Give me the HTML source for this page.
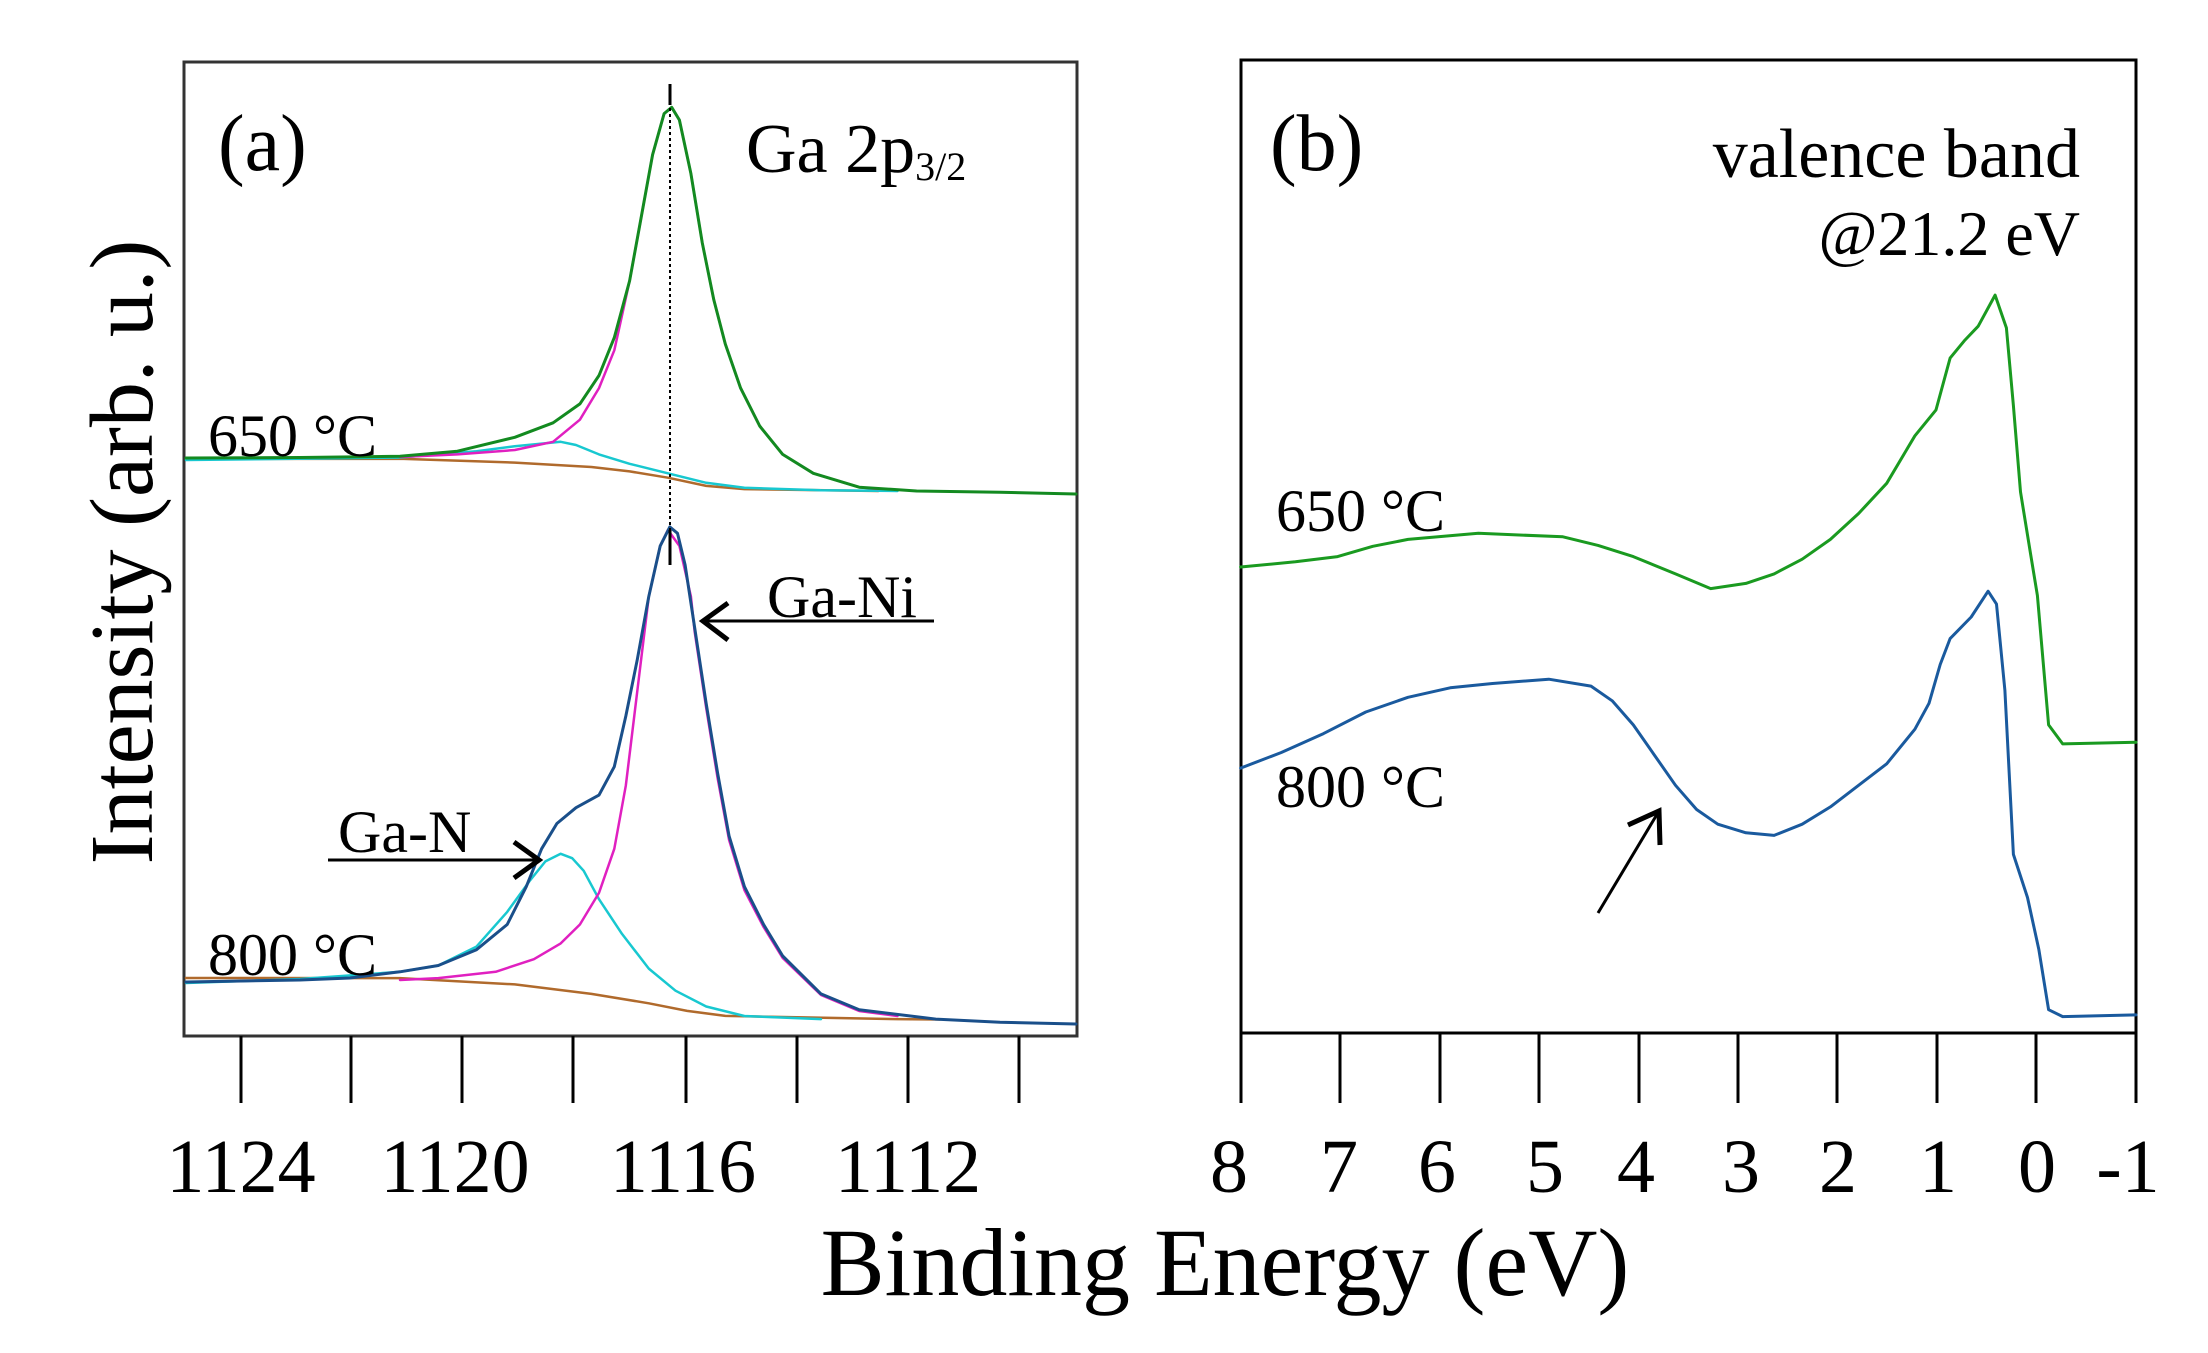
<!DOCTYPE html>
<html><head><meta charset="utf-8"><style>
html,body{margin:0;padding:0;background:#fff;}
svg{display:block;font-family:"Liberation Serif",serif;}
</style></head><body>
<svg width="2208" height="1353" viewBox="0 0 2208 1353" xmlns="http://www.w3.org/2000/svg">
<rect width="2208" height="1353" fill="#fff"/>
<g fill="none" stroke="#000" stroke-width="3">
<rect x="184" y="62" width="893" height="974" stroke="#333"/>
<rect x="1241" y="60" width="895" height="973"/>
<path d="M241 1036V1103M351 1036V1103M462 1036V1103M573 1036V1103M686 1036V1103M797 1036V1103M908 1036V1103M1019 1036V1103"/>
<path d="M1241 1033V1103M1340 1033V1103M1440 1033V1103M1539 1033V1103M1639 1033V1103M1738 1033V1103M1837 1033V1103M1937 1033V1103M2036 1033V1103M2136 1033V1103"/>
</g>
<g fill="none" stroke-width="3" stroke-linejoin="round" stroke-linecap="round">
<!-- 650 panel a -->
<polyline stroke="#b06a2c" stroke-width="2.5" points="186,459 400,458.8 514.8,462.6 591.4,467 629.6,471.4 667.9,477.7 706.2,485.9 744.4,489.1 878.4,491"/>
<polyline stroke="#18c8d0" stroke-width="2.5" points="186,460 400,457.5 476.5,451.2 514.8,446.2 560.7,441.8 576,445 599,454.4 629.6,463.8 667.9,473.3 706.2,482.8 744.4,487.8 821,490.3 897.5,491"/>
<polyline stroke="#e020c0" stroke-width="2.5" points="400,457 457.4,454.4 514.8,450 553.1,441.8 579.9,419.7 599,388.1 614.3,350.3 629.6,280.9 641.1,217.8 652.6,154.7 664.1,113.6 671.7,107.3 679.4,120 690.9,173.6 702.3,243 713.8,299.8 725.3,344 740.6,388.1 759.7,426 782.7,454.4 813.3,473.3 859.2,487.2 878,489"/>
<polyline stroke="#138a20" points="186,458 300,457.5 400,456.3 457.4,451.2 514.8,437.3 553.1,422.8 579.9,403.9 599,375.5 614.3,337.6 629.6,280.9 641.1,217.8 652.6,154.7 664.1,113.6 671.7,107.3 679.4,120 690.9,173.6 702.3,243 713.8,299.8 725.3,344 740.6,388.1 759.7,426 782.7,454.4 813.3,473.3 859.2,487.2 916.6,491 1000,492.2 1076,494"/>
<!-- 800 panel a -->
<polyline stroke="#b06a2c" stroke-width="2.5" points="186,978 400,978.1 514.8,984.4 591.4,993.9 648.8,1003.3 687.1,1010.9 725.3,1015.9 897.5,1019.1 940,1019.5"/>
<polyline stroke="#18c8d0" stroke-width="2.5" points="186,983 300,979 400,971.8 438.3,965.5 476.5,946.6 507.2,911.9 530.1,880.3 545.4,861.4 560.7,853.8 572.2,858.2 583.7,870.8 599,899.2 622,933.9 648.8,968.6 675.5,990.7 706.2,1006.5 744.4,1016 821,1019.1"/>
<polyline stroke="#e020c0" stroke-width="2.5" points="400,980 438.3,978.1 495.7,971.8 533.9,959.2 560.7,943.4 579.9,924.5 599,892.9 614.3,848.8 625.8,785.7 637.3,691 648.8,596.4 660.2,545.9 667.9,530 679.4,545.9 690.9,596.4 694.7,632 706.2,708 717.6,778 729.1,840 744.4,890 763.6,927 782.7,958 821,995 859.2,1011 897.5,1016"/>
<polyline stroke="#1a4f8a" points="186,982 300,980 350,978 400,971.8 438.3,965.5 476.5,949.7 507.2,924.5 526.3,886.6 541.6,848.8 556.9,823.5 576,807.7 599,795.1 614.3,766.7 625.8,716.2 637.3,659.5 648.8,596.4 660.2,545.9 669.8,526.9 677.5,533.3 685.1,564.8 694.7,627.9 706.2,703.6 717.6,773 729.1,836.1 744.4,886.6 763.6,924.5 782.7,956 821,993.9 859.2,1009.7 935.8,1019.1 1000,1022.3 1076,1024"/>
<!-- panel b -->
<polyline stroke="#1a9a20" points="1240.6,567 1295.4,561.8 1337.6,556.6 1372.8,546.3 1408,539.4 1478.4,533.3 1562.9,536.8 1598.1,545.4 1633.3,556.6 1675.5,573.9 1710.7,588.6 1745.9,583.4 1774.1,573.9 1802.2,559.2 1830.4,539.4 1858.6,513.5 1886.7,483.3 1914.9,435.8 1936,409.9 1950.1,358.1 1964.2,340.9 1978.2,326.2 1995.1,295.1 2006.4,327.9 2013.4,405.6 2020.5,491.9 2030.3,552.3 2037.4,595.5 2048.6,724.9 2062.7,743.9 2136,742.2"/>
<polyline stroke="#1a5a9e" points="1240.6,768.1 1281.3,752.5 1323.5,733.6 1365.8,712 1408,697.3 1450.2,687.8 1492.5,683.5 1548.8,679.2 1591,686.1 1612.2,700.8 1633.3,724.9 1654.4,755.1 1675.5,785.3 1696.6,809.5 1717.8,824.2 1745.9,832.8 1774.1,835.4 1802.2,824.2 1830.4,806.9 1858.6,785.3 1886.7,763.8 1914.9,729.2 1929,703.3 1940.2,664.5 1950.1,638.6 1971.2,617 1988.1,591.2 1996.5,604.1 2004.9,690.4 2013.4,854.4 2027.5,897.5 2038.8,949.3 2048.6,1009.7 2062.7,1016.6 2136,1014.9"/>
</g>
<line x1="670" y1="84" x2="670" y2="565" stroke="#000" stroke-width="2" stroke-dasharray="3,3"/>
<line x1="670" y1="84" x2="670" y2="105" stroke="#000" stroke-width="3"/>
<line x1="670" y1="530" x2="670" y2="565" stroke="#000" stroke-width="3"/>
<g stroke="#000" fill="none" stroke-width="3">
<path d="M703 621H934"/><path d="M728 603L703 621L728 640" stroke-width="5"/>
<path d="M328 860H539"/><path d="M514 842L539 860L514 878" stroke-width="5"/>
<path d="M1598 913L1659 811"/><path d="M1628 825L1659 811L1660 845" stroke-width="5"/>
</g>
<g fill="#000">
<text x="218" y="170" font-size="80">(a)</text>
<text x="746" y="172" font-size="70">Ga 2p<tspan font-size="40" dy="8">3/2</tspan></text>
<text x="208" y="456" font-size="60">650 °C</text>
<text x="208" y="975" font-size="60">800 °C</text>
<text x="767" y="617" font-size="60">Ga-Ni</text>
<text x="338" y="852" font-size="60">Ga-N</text>
<text x="1270" y="170" font-size="80">(b)</text>
<text x="2080" y="177" font-size="70" text-anchor="end">valence band</text>
<text x="2080" y="255" font-size="64" text-anchor="end">@21.2 eV</text>
<text x="1276" y="531" font-size="60">650 °C</text>
<text x="1276" y="807" font-size="60">800 °C</text>
<g font-size="76" text-anchor="middle">
<text x="241" y="1192">1124</text><text x="455" y="1192">1120</text><text x="683" y="1192">1116</text><text x="908" y="1192">1112</text>
<text x="1229" y="1192">8</text><text x="1339" y="1192">7</text><text x="1437" y="1192">6</text><text x="1545" y="1192">5</text><text x="1636" y="1192">4</text><text x="1741" y="1192">3</text><text x="1838" y="1192">2</text><text x="1938" y="1192">1</text><text x="2037" y="1192">0</text><text x="2128" y="1192">-1</text>
</g>
<text x="1225" y="1295" font-size="96" text-anchor="middle">Binding Energy (eV)</text>
<text transform="translate(152,552) rotate(-90)" font-size="90" text-anchor="middle">Intensity (arb. u.)</text>
</g>
</svg>
</body></html>
